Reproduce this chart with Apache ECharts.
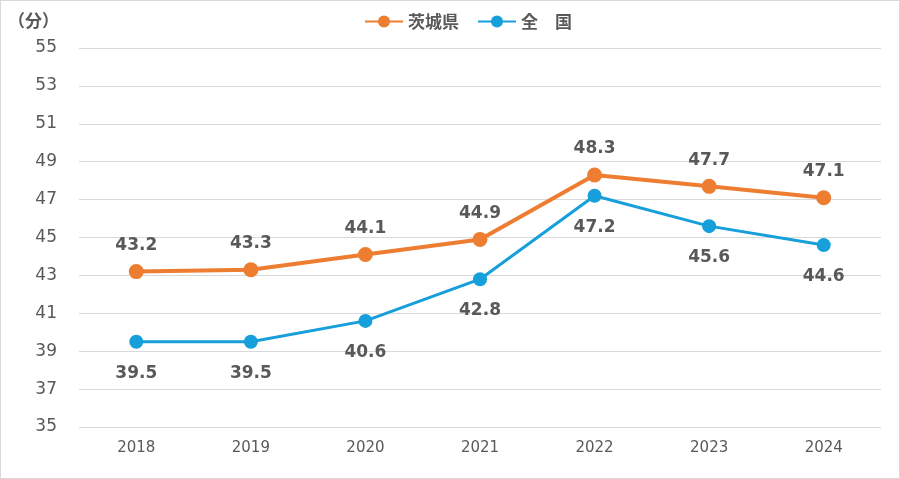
<!DOCTYPE html>
<html><head><meta charset="utf-8">
<script src="https://cdn.jsdelivr.net/npm/echarts@6/dist/echarts.min.js"></script>
<style>html,body{margin:0;padding:0;background:#fff}#c{width:898px;height:477px;border:1px solid #d9d9d9}</style>
</head><body><div id="c"></div>
<script>
const categories = ['2018','2019','2020','2021','2022','2023','2024'];
const ibaraki = [43.2,43.3,44.1,44.9,48.3,47.7,47.1];
const national = [39.5,39.5,40.6,42.8,47.2,45.6,44.6];
const seriesNames = ['茨城県','全　国'];
const yTicks = {min:35,max:55,interval:2};

const chart = echarts.init(document.getElementById('c'));
const labelStyle = {show:true,fontSize:17,fontWeight:'bold',color:'#595959',fontFamily:'Verdana, DejaVu Sans, sans-serif'};
chart.setOption({
  animation:false,
  textStyle:{fontFamily:'Verdana, DejaVu Sans, sans-serif'},
  title:{text:'（分）',left:2,top:6,textStyle:{fontSize:17,fontWeight:'bold',color:'#595959',fontFamily:'Noto Sans CJK JP'}},
  legend:{top:7,left:358,itemWidth:38,itemHeight:15,itemGap:18,
    textStyle:{fontSize:17,fontWeight:'bold',color:'#595959',fontFamily:'Noto Sans CJK JP'},
    data:seriesNames},
  grid:{left:78,right:18,top:47,bottom:51,containLabel:false},
  xAxis:{type:'category',data:categories,boundaryGap:true,
    axisLine:{show:false},axisTick:{show:false},
    axisLabel:{fontSize:15,color:'#595959',margin:14}},
  yAxis:{type:'value',min:yTicks.min,max:yTicks.max,interval:yTicks.interval,
    axisLine:{show:false},axisTick:{show:false},
    axisLabel:{fontSize:17,color:'#595959',margin:22},
    splitLine:{lineStyle:{color:'#d9d9d9',width:1}}},
  series:[
    {name:seriesNames[0],type:'line',data:ibaraki,symbol:'circle',symbolSize:15,
     lineStyle:{width:4,color:'#ED7D31'},itemStyle:{color:'#ED7D31'},
     label:Object.assign({},labelStyle,{position:'top',distance:10})},
    {name:seriesNames[1],type:'line',data:national,symbol:'circle',symbolSize:14,
     lineStyle:{width:3,color:'#169FDA'},itemStyle:{color:'#169FDA'},
     label:Object.assign({},labelStyle,{position:'bottom',distance:16})}
  ]
});
</script></body></html>
